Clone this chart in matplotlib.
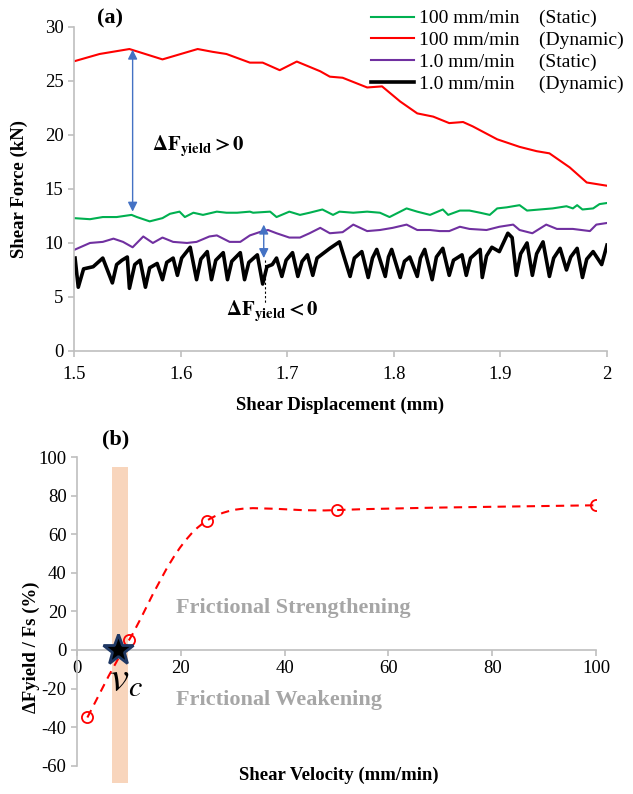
import numpy as np
import matplotlib
matplotlib.use("Agg")
import matplotlib.pyplot as plt
from matplotlib.path import Path
from matplotlib.patches import PathPatch

plt.rcParams['font.family'] = ['Liberation Serif', 'DejaVu Serif']
plt.rcParams['mathtext.fontset'] = 'stix'
plt.rcParams['axes.unicode_minus'] = False

# ---- panel (a) data: shear force (kN) vs displacement (mm)
red_x = [1.501, 1.524, 1.552, 1.583, 1.616, 1.630, 1.643, 1.665, 1.677, 1.693,
         1.709, 1.731, 1.740, 1.752, 1.775, 1.789, 1.806, 1.822, 1.837, 1.852,
         1.865, 1.874, 1.897, 1.918, 1.934, 1.946, 1.965, 1.981, 2.000]
red_y = [26.85, 27.5, 27.96, 27.0, 27.96, 27.7, 27.5, 26.7, 26.7, 26.0,
         26.8, 25.9, 25.4, 25.3, 24.4, 24.5, 23.1, 22.0, 21.7, 21.1,
         21.2, 20.8, 19.6, 18.9, 18.5, 18.3, 17.0, 15.6, 15.3]

green_x = [1.500, 1.515, 1.527, 1.540, 1.554, 1.559, 1.571, 1.583, 1.590, 1.599,
           1.604, 1.612, 1.621, 1.634, 1.643, 1.653, 1.665, 1.668, 1.684, 1.690,
           1.702, 1.712, 1.721, 1.733, 1.743, 1.749, 1.762, 1.775, 1.787, 1.796,
           1.812, 1.822, 1.834, 1.846, 1.851, 1.862, 1.871, 1.881, 1.890, 1.897,
           1.906, 1.918, 1.925, 1.937, 1.949, 1.962, 1.968, 1.972, 1.977, 1.987,
           1.993, 2.000]
green_y = [12.3, 12.2, 12.4, 12.4, 12.6, 12.4, 12.0, 12.3, 12.7, 12.9,
           12.4, 12.8, 12.6, 12.9, 12.8, 12.8, 12.9, 12.8, 12.9, 12.4,
           12.9, 12.6, 12.8, 13.1, 12.6, 12.9, 12.8, 12.9, 12.8, 12.4,
           13.2, 12.9, 12.6, 13.1, 12.6, 13.0, 13.0, 12.8, 12.6, 13.2,
           13.3, 13.5, 13.0, 13.1, 13.2, 13.4, 13.2, 13.5, 13.1, 13.2,
           13.6, 13.7]

purple_x = [1.500, 1.515, 1.527, 1.537, 1.546, 1.555, 1.565, 1.574, 1.583, 1.593,
            1.606, 1.615, 1.627, 1.634, 1.646, 1.656, 1.665, 1.674, 1.682, 1.690,
            1.702, 1.712, 1.721, 1.731, 1.740, 1.752, 1.762, 1.775, 1.787, 1.799,
            1.812, 1.822, 1.834, 1.843, 1.852, 1.862, 1.871, 1.887, 1.899, 1.912,
            1.918, 1.930, 1.943, 1.953, 1.968, 1.984, 1.990, 2.000]
purple_y = [9.35, 10.0, 10.1, 10.4, 10.1, 9.6, 10.6, 10.0, 10.5, 10.1,
            10.0, 10.1, 10.6, 10.7, 10.1, 10.1, 10.7, 11.0, 11.2, 10.9,
            10.5, 10.5, 10.9, 11.4, 10.9, 11.0, 11.7, 11.1, 11.2, 11.4,
            11.7, 11.2, 11.2, 11.1, 11.1, 11.5, 11.3, 11.2, 11.5, 11.7,
            11.2, 10.9, 11.7, 11.3, 11.3, 11.1, 11.7, 11.85]

# stick-slip trace: plateau, sharp drop, quick recovery
black_x = [1.501, 1.504, 1.509, 1.518, 1.527, 1.536, 1.540, 1.545, 1.550, 1.552,
           1.557, 1.562, 1.567, 1.571, 1.578, 1.583, 1.587, 1.593, 1.597, 1.601,
           1.609, 1.615, 1.619, 1.625, 1.629, 1.633, 1.640, 1.644, 1.648, 1.656,
           1.660, 1.664, 1.672, 1.677, 1.681, 1.686, 1.690, 1.695, 1.699, 1.705,
           1.710, 1.714, 1.719, 1.724, 1.728, 1.740, 1.749, 1.759, 1.763, 1.770,
           1.776, 1.780, 1.784, 1.792, 1.795, 1.798, 1.806, 1.810, 1.815, 1.822,
           1.825, 1.829, 1.836, 1.840, 1.846, 1.852, 1.856, 1.864, 1.868, 1.872,
           1.881, 1.883, 1.887, 1.892, 1.899, 1.907, 1.911, 1.915, 1.919, 1.925,
           1.930, 1.934, 1.940, 1.946, 1.950, 1.956, 1.962, 1.966, 1.972, 1.977,
           1.981, 1.987, 1.995, 2.000]
black_y = [8.6, 5.9, 7.6, 7.8, 8.6, 6.3, 8.0, 8.4, 8.7, 5.8,
           8.0, 8.4, 5.9, 7.7, 8.1, 6.6, 8.2, 8.6, 7.0, 8.6,
           9.6, 6.6, 8.5, 9.2, 6.6, 8.4, 9.1, 6.6, 8.3, 9.1,
           6.6, 8.2, 8.9, 6.2, 7.8, 8.0, 8.6, 6.9, 8.4, 9.1,
           6.9, 8.3, 8.9, 7.0, 8.6, 9.5, 10.1, 6.9, 8.6, 9.2,
           6.8, 8.6, 9.4, 6.9, 8.7, 9.4, 6.8, 8.3, 8.7, 6.9,
           8.6, 9.4, 6.6, 8.7, 9.5, 7.0, 8.4, 8.9, 7.0, 8.6,
           9.4, 6.8, 8.8, 9.6, 9.2, 10.9, 10.5, 7.0, 9.0, 10.0,
           7.0, 9.0, 10.1, 6.9, 8.6, 9.5, 7.5, 8.7, 9.5, 6.8,
           8.5, 9.2, 8.0, 9.8]

legend_labels = ["100 mm/min    (Static)", "100 mm/min    (Dynamic)",
                 "1.0 mm/min     (Static)", "1.0 mm/min     (Dynamic)"]

# ---- panel (b) data
vel = [2, 10, 25, 50, 100]
dfy = [-35, 5, 67, 72.5, 75]
v_c = 8
band = (6.7, 9.9)

gray = '#BFBFBF'
arrow_c = '#4472C4'

fig = plt.figure(figsize=(6.33, 7.94), dpi=100)

# ================= (a)
ax = fig.add_axes([0.1169, 0.558, 0.842, 0.408])
l1, = ax.plot(green_x, green_y, color='#00B050', lw=1.5)
l2, = ax.plot(red_x, red_y, color='#FF0000', lw=1.5)
l3, = ax.plot(purple_x, purple_y, color='#7030A0', lw=1.5)
l4, = ax.plot(black_x, black_y, color='black', lw=2.6)
ax.set_xlim(1.5, 2.0)
ax.set_ylim(0, 30)
ax.set_xticks([1.5, 1.6, 1.7, 1.8, 1.9, 2.0])
ax.set_xticklabels(['1.5', '1.6', '1.7', '1.8', '1.9', '2'])
ax.set_yticks(range(0, 31, 5))
for s in ['top', 'right']:
    ax.spines[s].set_visible(False)
for s in ['left', 'bottom']:
    ax.spines[s].set_color(gray)
    ax.spines[s].set_linewidth(1.2)
ax.tick_params(colors=gray, labelcolor='black', labelsize=13.5, length=4, width=1.2)
ax.tick_params(axis='x', pad=7)
ax.set_xlabel('Shear Displacement (mm)', fontsize=13.5, fontweight='bold', labelpad=10)
ax.set_ylabel('Shear Force (kN)', fontsize=13.5, fontweight='bold')
ax.yaxis.set_label_coords(-0.086, 0.5)

ax.annotate('', xy=(1.555, 27.9), xytext=(1.555, 12.9),
            arrowprops=dict(arrowstyle='<|-|>', color=arrow_c, lw=1.0,
                            mutation_scale=14, shrinkA=0, shrinkB=0))
ax.annotate('', xy=(1.678, 11.7), xytext=(1.678, 8.6),
            arrowprops=dict(arrowstyle='<|-|>', color=arrow_c, lw=1.0,
                            mutation_scale=14, shrinkA=0, shrinkB=0))
ax.plot([1.679, 1.679], [8.4, 4.4], color='black', lw=0.8, ls=(0, (2, 2)))
ax.text(1.573, 18.9, r'$\mathbf{\Delta F_{yield}} \mathbf{>0}$', fontsize=15,
        ha='left', va='center')
ax.text(1.643, 3.7, r'$\mathbf{\Delta F_{yield}} \mathbf{<0}$', fontsize=15,
        ha='left', va='center')
fig.text(0.153, 0.977, '(a)', fontsize=16, fontweight='bold', ha='left', va='center')

fig.legend([l1, l2, l3, l4], legend_labels, loc='upper right',
           bbox_to_anchor=(1.0, 1.0), frameon=False, fontsize=14,
           handlelength=2.2, handletextpad=0.25, labelspacing=0.22,
           borderaxespad=0.1)

# ================= (b)
bx = fig.add_axes([0.1216, 0.0113, 0.820, 0.4131])
bx.set_xlim(0, 100)
bx.set_ylim(-70, 100)
bx.fill_between(list(band), -69, 95, color='#F8D5BC', lw=0, zorder=0)

# Excel-style smoothed line: cubic Bezier through the data points
pts = np.column_stack([vel, dfy]).astype(float)
n = len(pts)
verts = [pts[0]]
codes = [Path.MOVETO]
for i in range(n - 1):
    p0 = pts[max(i - 1, 0)]
    p1 = pts[i]
    p2 = pts[i + 1]
    p3 = pts[min(i + 2, n - 1)]
    verts += [p1 + (p2 - p0) / 6, p2 - (p3 - p1) / 6, p2]
    codes += [Path.CURVE4] * 3
bx.add_patch(PathPatch(Path(verts, codes), fill=False, edgecolor='#FF0000',
                       lw=1.5, ls=(0, (4, 3)), zorder=2))
bx.plot(vel, dfy, ls='none', marker='o', ms=8, mfc='none', mec='#FF0000',
        mew=1.3, zorder=3)
bx.plot([v_c], [0], marker='*', ms=23, mfc='black', mec='#1F3864', mew=2, zorder=4)

bx.spines['top'].set_visible(False)
bx.spines['right'].set_visible(False)
bx.spines['bottom'].set_position(('data', 0))
bx.spines['left'].set_bounds(-60, 100)
for s in ['left', 'bottom']:
    bx.spines[s].set_color(gray)
    bx.spines[s].set_linewidth(1.2)
bx.set_xticks(range(0, 101, 20))
bx.set_yticks(range(-60, 101, 20))
bx.tick_params(colors=gray, labelcolor='black', labelsize=13.5, length=4, width=1.2)
bx.set_ylabel('ΔFyield / Fs (%)', fontsize=13.5, fontweight='bold')
bx.yaxis.set_label_coords(-0.071, 0.42)
fig.text(0.535, 0.024, 'Shear Velocity (mm/min)', fontsize=13.5, fontweight='bold',
         ha='center', va='center')

bx.text(19, 22, 'Frictional Strengthening', fontsize=16, fontweight='bold',
        color='#A6A6A6', ha='left', va='center')
bx.text(19, -26, 'Frictional Weakening', fontsize=16, fontweight='bold',
        color='#A6A6A6', ha='left', va='center')
bx.text(9.4, -16, r'$v_c$', fontsize=31, ha='center', va='center')
fig.text(0.182, 0.447, '(b)', fontsize=16, fontweight='bold', ha='center', va='center')

fig.savefig('out.png', dpi=100)
